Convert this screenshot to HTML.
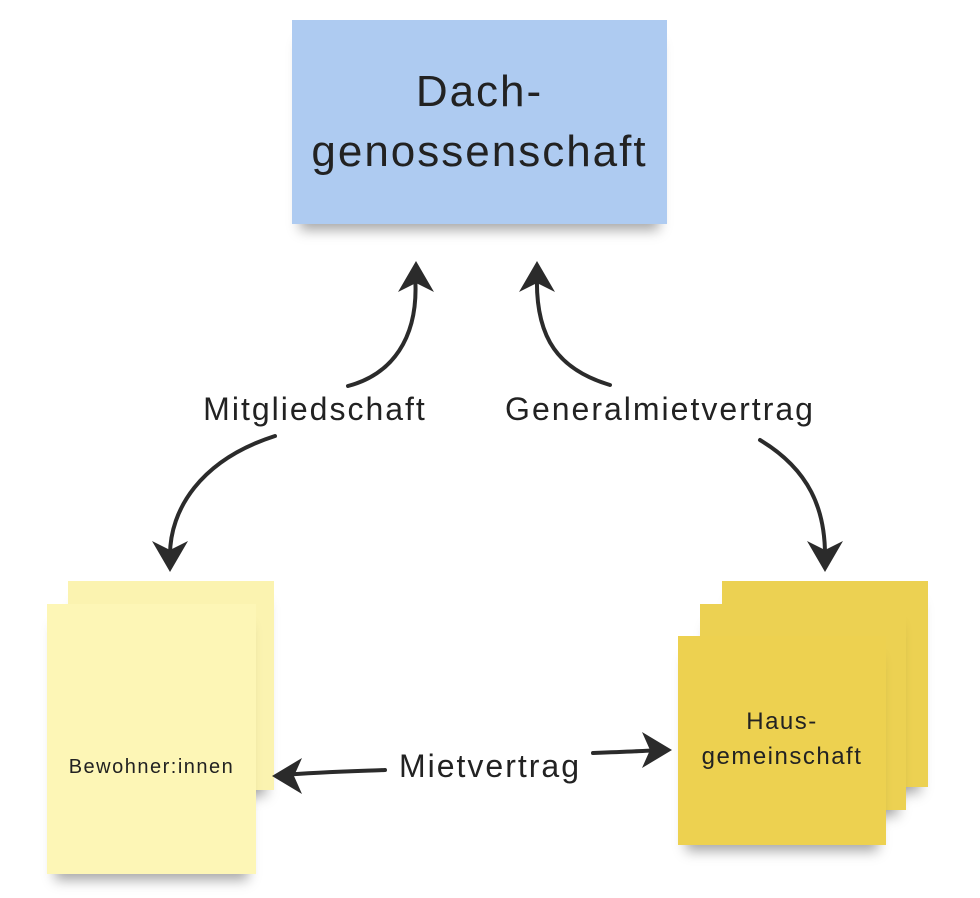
<!DOCTYPE html>
<html><head><meta charset="utf-8"><style>
body{margin:0;width:980px;height:898px;background:#fff;position:relative;overflow:hidden;font-family:"Liberation Sans","DejaVu Sans",sans-serif}
.n{position:absolute;box-shadow:0 14px 12px -8px rgba(0,0,0,0.35)}
.t{position:absolute;color:#222;text-align:center;white-space:nowrap}
</style></head><body>
<div class="n" style="left:292px;top:20px;width:375px;height:204px;background:#aecbf1"></div>
<div class="t" style="left:292px;top:62px;width:375px;font-size:44px;line-height:60px;letter-spacing:2px;color:#222">Dach-<br>genossenschaft</div>

<div class="n" style="left:68px;top:581px;width:206px;height:209px;background:#fbf3b0"></div>
<div class="n" style="left:47px;top:604px;width:209px;height:270px;background:#fdf6b6"></div>
<div class="t" style="left:47px;top:756px;width:209px;font-size:20px;letter-spacing:1.5px">Bewohner:innen</div>

<div class="n" style="left:722px;top:581px;width:206px;height:206px;background:#ecd152"></div>
<div class="n" style="left:700px;top:604px;width:206px;height:206px;background:#ecd152"></div>
<div class="n" style="left:678px;top:636px;width:208px;height:209px;background:#edd150"></div>
<div class="t" style="left:678px;top:704px;width:208px;font-size:24px;line-height:35px;letter-spacing:1.5px">Haus-<br>gemeinschaft</div>

<svg width="980" height="898" style="position:absolute;left:0;top:0" fill="none" stroke="#2b2b2b" stroke-width="4" stroke-linecap="round">
<path d="M415 275 C420 340 390 375 348 386"/>
<path d="M275 436 C200 460 170 510 170 555"/>
<path d="M537 275 C535 340 560 370 610 385"/>
<path d="M760 440 C810 470 825 510 825 555"/>
<path d="M282 775 C320 772 360 771 385 770"/>
<path d="M593 753 C620 752 645 751 660 750"/>
<g fill="#2b2b2b" stroke="none">
<polygon points="416,261 398,292 416,283 434,292"/>
<polygon points="537,261 519,292 537,283 555,292"/>
<polygon points="170,572 152,541 170,550 188,541"/>
<polygon points="825,572 807,541 825,550 843,541"/>
<polygon points="272,776 302,758 294,776 302,794"/>
<polygon points="672,750 642,732 650,750 642,768"/>
</g>
</svg>
<div class="t" style="left:180px;top:391px;width:270px;font-size:32px;letter-spacing:2px">Mitgliedschaft</div>
<div class="t" style="left:490px;top:391px;width:340px;font-size:32px;letter-spacing:2px">Generalmietvertrag</div>
<div class="t" style="left:385px;top:748px;width:210px;font-size:32px;letter-spacing:2px">Mietvertrag</div>
</body></html>
